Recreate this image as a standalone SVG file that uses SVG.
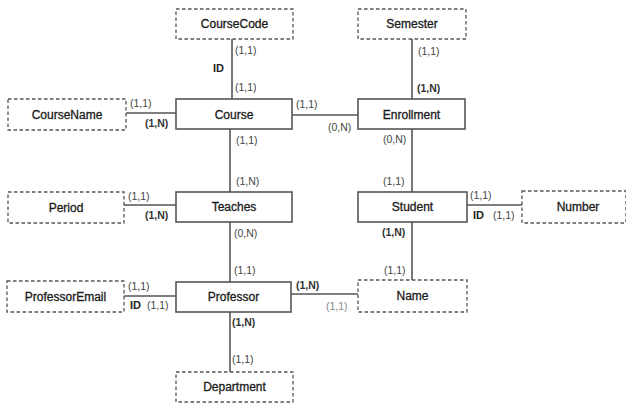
<svg xmlns="http://www.w3.org/2000/svg" width="626" height="406" viewBox="0 0 626 406">
<style>
.ent{fill:#fff;stroke:#555;stroke-width:1.6}
.att{fill:#fff;stroke:#555;stroke-width:1.3;stroke-dasharray:3.5,2.5}
.lbl{font-family:"Liberation Sans",Arial,sans-serif;font-size:12px;fill:#1a1a1a;stroke:#1a1a1a;stroke-width:0.3;text-anchor:middle}
.c{font-family:"Liberation Sans",Arial,sans-serif;font-size:10.5px;fill:#444}
.b{font-weight:bold;fill:#333}
.id{font-family:"Liberation Sans",Arial,sans-serif;font-size:11px;fill:#222;font-weight:bold}
.ln{stroke:#555;stroke-width:1.6;fill:none}
</style>
<rect width="626" height="406" fill="#fff"/>
<g id="connectors">
<line class="ln" x1="232" y1="39" x2="232" y2="99"/>
<line class="ln" x1="412" y1="39" x2="412" y2="99"/>
<line class="ln" x1="126" y1="113" x2="176" y2="113"/>
<line class="ln" x1="292" y1="115" x2="358" y2="115"/>
<line class="ln" x1="230" y1="129" x2="230" y2="192"/>
<line class="ln" x1="412" y1="129" x2="412" y2="192"/>
<line class="ln" x1="124" y1="205" x2="176" y2="205"/>
<line class="ln" x1="467" y1="205" x2="522" y2="205"/>
<line class="ln" x1="230" y1="222" x2="230" y2="282"/>
<line class="ln" x1="412" y1="222" x2="412" y2="281"/>
<line class="ln" x1="124" y1="296" x2="176" y2="296"/>
<line class="ln" x1="291" y1="294" x2="358" y2="294"/>
<line class="ln" x1="230" y1="312" x2="230" y2="372"/>
<text class="c" x="235" y="54">(1,1)</text>
<text class="id" x="213" y="72">ID</text>
<text class="c" x="235" y="91">(1,1)</text>
<text class="c" x="418" y="55">(1,1)</text>
<text class="c b" x="417" y="92">(1,N)</text>
<text class="c" x="130" y="107">(1,1)</text>
<text class="c b" x="145" y="127">(1,N)</text>
<text class="c" x="296" y="108">(1,1)</text>
<text class="c" x="328" y="131">(0,N)</text>
<text class="c" x="236" y="144">(1,1)</text>
<text class="c" x="236" y="185">(1,N)</text>
<text class="c" x="383" y="143">(0,N)</text>
<text class="c" x="383" y="185">(1,1)</text>
<text class="c" x="128" y="200">(1,1)</text>
<text class="c b" x="145" y="219">(1,N)</text>
<text class="c" x="470" y="199">(1,1)</text>
<text class="id" x="473" y="219">ID</text>
<text class="c" x="493" y="219">(1,1)</text>
<text class="c" x="234" y="237">(0,N)</text>
<text class="c b" x="382" y="236">(1,N)</text>
<text class="c" x="234" y="274">(1,1)</text>
<text class="c" x="384" y="274">(1,1)</text>
<text class="c b" x="296" y="289">(1,N)</text>
<text class="c" x="326" y="310" style="fill:#888">(1,1)</text>
<text class="c" x="128" y="290">(1,1)</text>
<text class="id" x="130" y="309">ID</text>
<text class="c" x="147" y="309">(1,1)</text>
<text class="c b" x="232" y="326">(1,N)</text>
<text class="c" x="232" y="363">(1,1)</text>
</g>
<g id="CourseCode"><rect class="att" x="176" y="9" width="117" height="30"/><text class="lbl" x="234.5" y="28">CourseCode</text></g>
<g id="Semester"><rect class="att" x="358" y="9" width="108" height="30"/><text class="lbl" x="412" y="28">Semester</text></g>
<g id="CourseName"><rect class="att" x="8" y="99" width="118" height="31"/><text class="lbl" x="67" y="119">CourseName</text></g>
<g id="Course"><rect class="ent" x="176" y="99" width="116" height="30"/><text class="lbl" x="234" y="119">Course</text></g>
<g id="Enrollment"><rect class="ent" x="358" y="99" width="107" height="30"/><text class="lbl" x="411.5" y="119">Enrollment</text></g>
<g id="Period"><rect class="att" x="8" y="192" width="116" height="31"/><text class="lbl" x="66" y="212">Period</text></g>
<g id="Teaches"><rect class="ent" x="176" y="192" width="116" height="30"/><text class="lbl" x="234" y="211">Teaches</text></g>
<g id="Student"><rect class="ent" x="358" y="192" width="109" height="30"/><text class="lbl" x="412.5" y="211">Student</text></g>
<g id="Number"><rect class="att" x="522" y="191" width="104" height="32"/><text class="lbl" x="578" y="211">Number</text></g>
<g id="ProfessorEmail"><rect class="att" x="7" y="281" width="117" height="31"/><text class="lbl" x="65.5" y="301">ProfessorEmail</text></g>
<g id="Professor"><rect class="ent" x="176" y="282" width="115" height="30"/><text class="lbl" x="233.5" y="301">Professor</text></g>
<g id="Name"><rect class="att" x="358" y="280" width="109" height="32"/><text class="lbl" x="412.5" y="300">Name</text></g>
<g id="Department"><rect class="att" x="176" y="372" width="117" height="30"/><text class="lbl" x="234.5" y="391">Department</text></g>
</svg>
